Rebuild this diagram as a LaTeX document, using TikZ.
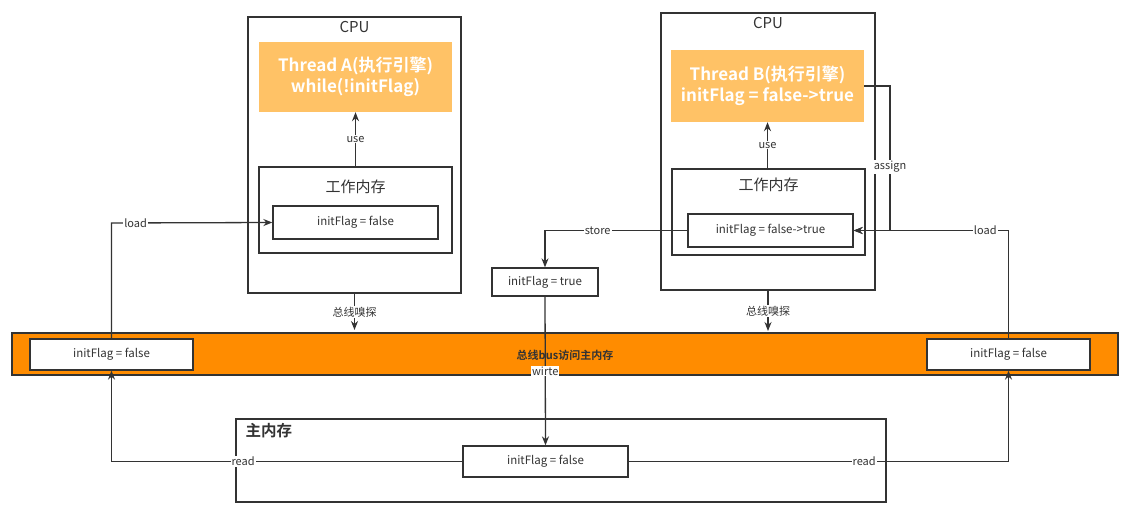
\documentclass[tikz,border=0pt]{standalone}
\usepackage{fontspec}
\setmainfont{Noto Sans CJK SC}[BoldFont={Noto Sans CJK SC Bold}]
\usetikzlibrary{arrows.meta}
\definecolor{linegray}{HTML}{333333}
\definecolor{threadorange}{HTML}{FFC266}
\definecolor{busorange}{HTML}{FF8C00}
\tikzstyle{frame} = [rectangle, draw=linegray, line width=1.3pt, inner sep=0pt]
\tikzstyle{flag} = [rectangle, draw=linegray, line width=1.3pt, fill=white, inner sep=0pt, text=linegray, font=\fontsize{11.5}{13}\selectfont]
\tikzstyle{thread} = [rectangle, fill=threadorange, inner sep=0pt, text=white, align=center, font=\fontsize{17}{21}\selectfont\bfseries]
\tikzstyle{title} = [text=linegray, inner sep=1pt, font=\fontsize{15}{17}\selectfont]
\tikzstyle{lbl} = [fill=white, inner sep=1pt, text=linegray, font=\fontsize{11}{12}\selectfont]
\tikzstyle{arrow} = [line width=1.3pt, draw=linegray, -{Stealth[length=9pt,width=7pt]}]

\begin{document}
\begin{tikzpicture}[x=1pt, y=-1pt]
    \useasboundingbox (0,0) rectangle (1131,514);

    % bus and main memory
    \node (bus) [rectangle, draw=linegray, line width=1.3pt, fill=busorange, minimum width=1106, minimum height=42] at (565,354) {};
    \node (buslabel) [text=linegray, font=\fontsize{11}{12}\selectfont\bfseries] at (565,355) {总线bus访问主内存};
    \node (busL) [flag, minimum width=163, minimum height=31] at (111.5,354.5) {initFlag = false};
    \node (busR) [flag, minimum width=163, minimum height=31] at (1008.5,354.5) {initFlag = false};

    \node (mainmem) [frame, minimum width=650, minimum height=83] at (561,460.5) {};
    \node (mainlabel) [anchor=west, text=linegray, font=\fontsize{15.5}{17}\selectfont\bfseries] at (242,431) {主内存};
    \node (flagM) [flag, minimum width=165, minimum height=31] at (545.5,461.5) {initFlag = false};

    % CPU A
    \node (cpuA) [frame, minimum width=213, minimum height=276] at (354.5,155) {};
    \node (cpuAlabel) [title] at (354.5,27) {CPU};
    \node (threadA) [thread, minimum width=193, minimum height=70] at (355.5,77) {Thread A(执行引擎)\\while(!initFlag)};
    \node (memA) [frame, minimum width=193, minimum height=86] at (355.5,210) {};
    \node (memAlabel) [title] at (355.5,187) {工作内存};
    \node (flagA) [flag, minimum width=165, minimum height=33] at (355.5,222.5) {initFlag = false};

    % CPU B
    \node (cpuB) [frame, minimum width=214, minimum height=277] at (768,151.5) {};
    \node (cpuBlabel) [title] at (768,23) {CPU};
    \node (threadB) [thread, minimum width=193, minimum height=72] at (767.5,86) {Thread B(执行引擎)\\initFlag = false->true};
    \node (memB) [frame, minimum width=193, minimum height=86] at (768.5,212) {};
    \node (memBlabel) [title] at (768.5,185) {工作内存};
    \node (flagB) [flag, minimum width=165, minimum height=33] at (770.5,230.5) {initFlag = false->true};

    \node (flagT) [flag, minimum width=106, minimum height=28] at (545,282) {initFlag = true};

    \coordinate (1) at (111.5,223);
    \coordinate (2) at (890,86);
    \coordinate (3) at (890,230.5);
    \coordinate (4) at (1008.5,230.5);
    \coordinate (5) at (545,230.5);
    \coordinate (6) at (111.5,461.5);
    \coordinate (7) at (1008.5,461.5);
    \coordinate (8) at (354.5,330);
    \coordinate (9) at (768,331);

    \draw [arrow] (memA.north -| threadA.south) -- node [lbl] {use} (threadA.south);
    \draw [arrow] (memB.north -| threadB.south) -- node [lbl] {use} (threadB.south);
    \draw [arrow] (cpuA.south) -- node [lbl] {总线嗅探} (8);
    \draw [arrow] (cpuB.south) -- node [lbl] {总线嗅探} (9);

    \draw [arrow] (busL.north) -- (1) -- node [pos=0.15, lbl] {load} (flagA.west);
    \draw [arrow] (busR.north) -- (4) -- node [pos=0.15, lbl] {load} (flagB.east);
    \draw [arrow] (threadB.east |- 2) -- (2) -- node [pos=0.56, lbl] {assign} (3) -- (flagB.east);
    \draw [arrow] (flagB.west) -- node [pos=0.63, lbl] {store} (5) -- (flagT.north);
    \draw [arrow] (flagT.south) -- node [midway, lbl] {wirte} (flagM.north);
    \draw [arrow] (flagM.west) -- node [pos=0.625, lbl] {read} (6) -- (busL.south);
    \draw [arrow] (flagM.east) -- node [pos=0.62, lbl] {read} (7) -- (busR.south);
\end{tikzpicture}
\end{document}
